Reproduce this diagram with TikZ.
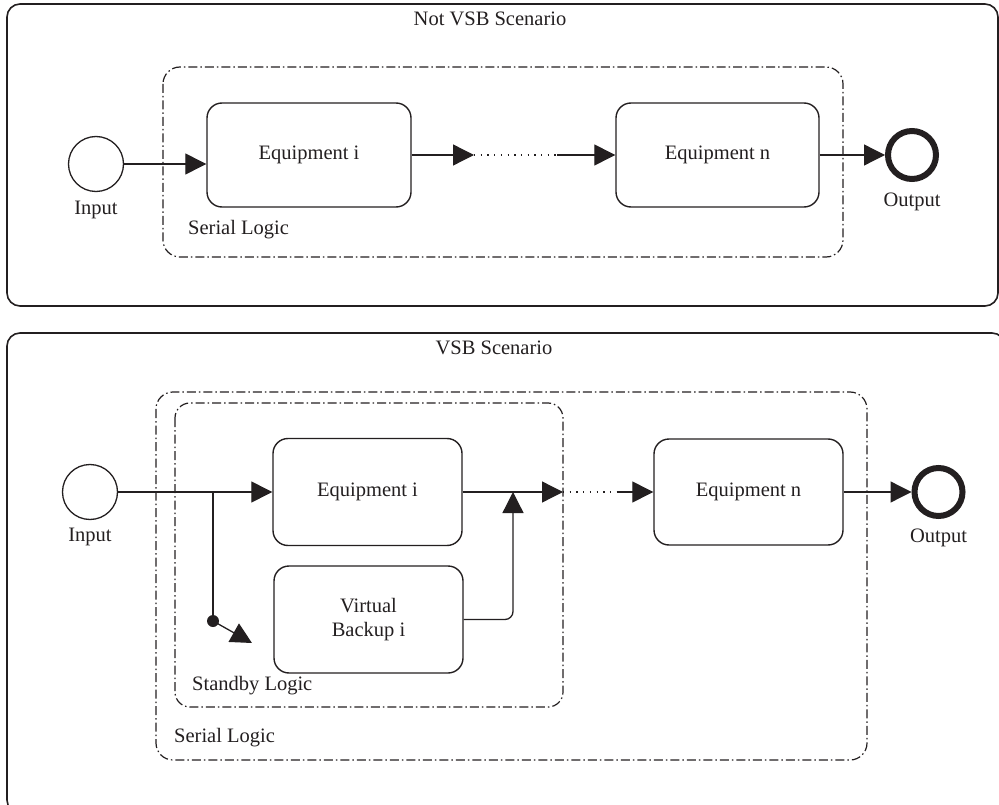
\documentclass[tikz,border=0pt]{standalone}
\usepackage{fontspec}
\setmainfont{Liberation Serif}
\usetikzlibrary{arrows.meta}
\definecolor{ink}{RGB}{35,31,32}
\begin{document}
\begin{tikzpicture}[x=1pt,y=-1pt,
  font=\fontsize{20.5}{24}\selectfont,
  panel/.style={draw=ink, line width=1.6pt, rounded corners=13pt},
  group/.style={draw=ink, line width=1.2pt, rounded corners=17pt, dash pattern=on 9pt off 3pt on 1.5pt off 3pt},
  task/.style={rectangle, draw=ink, line width=1.4pt, rounded corners=15pt, inner sep=0pt, align=center, text=ink},
  startev/.style={circle, draw=ink, line width=1.3pt, minimum size=55pt, inner sep=0pt},
  endev/.style={circle, draw=ink, line width=6pt, minimum size=48pt, inner sep=0pt},
  flow/.style={draw=ink, line width=1.3pt, -{Triangle[length=21pt,width=21pt]}},
  plain/.style={draw=ink, line width=1.3pt},
  dotline/.style={draw=ink, line width=1.3pt, dash pattern=on 1.3pt off 5.4pt},
  lbl/.style={text=ink, inner sep=0pt}]
\useasboundingbox (0,0) rectangle (999,805);
\clip (0,0) rectangle (999,805);

% ---------------- Top panel: Not VSB Scenario ----------------
\draw[panel] (7,4) rectangle (998,306);
\node[lbl] (t1) at (490,19) {Not VSB Scenario};
\draw[group] (163,67) rectangle (843,257);
\node[lbl, anchor=west] (sl1) at (188,230) {Serial Logic};

\node[startev] (in1) at (96,164) {};
\node[lbl] (in1l) at (96,210) {Input};
\node[task, minimum width=204pt, minimum height=104pt] (eqi1) at (309,155) {Equipment i};
\node[task, minimum width=203pt, minimum height=104pt] (eqn1) at (717.5,155) {Equipment n};
\node[endev] (out1) at (912,155) {};
\node[lbl] (out1l) at (912,202) {Output};

\coordinate (a1) at (474,155);
\coordinate (b1) at (557,155);
\draw[flow] (in1.east) -- (in1.east -| eqi1.west);
\draw[flow] (eqi1.east) -- (a1);
\draw[dotline] (a1) -- (b1);
\draw[flow] (b1) -- (eqn1.west);
\draw[flow] (eqn1.east) -- (out1.west);

% ---------------- Bottom panel: VSB Scenario ----------------
\draw[panel] (7,333) rectangle (1005,813);
\node[lbl] (t2) at (494,348) {VSB Scenario};
\draw[group] (156,392) rectangle (867,760);
\draw[group, rounded corners=15pt] (175,403) rectangle (563,707);
\node[lbl, anchor=west] (sb2) at (192,686) {Standby Logic};
\node[lbl, anchor=west] (sl2) at (174,738) {Serial Logic};

\node[startev] (in2) at (90,492) {};
\node[lbl] (in2l) at (90,537) {Input};
\node[task, minimum width=189pt, minimum height=107pt] (eqi2) at (367.5,492) {Equipment i};
\node[task, minimum width=189pt, minimum height=107pt] (vb2) at (368.5,619.5) {Virtual\\Backup i};
\node[task, minimum width=189pt, minimum height=106pt] (eqn2) at (748.5,492) {Equipment n};
\node[endev] (out2) at (938.5,492) {};
\node[lbl] (out2l) at (938.5,538) {Output};

\coordinate (br) at (213,492);
\node[circle, fill=ink, inner sep=0pt, minimum size=12pt] (dot) at (213,621) {};
\coordinate (tip) at (252,643);
\coordinate (join) at (513,492);
\coordinate (a2) at (563,492);
\coordinate (b2) at (617,492);

\draw[flow] (in2.east) -- (eqi2.west);
\draw[plain] (br) -- (dot.center);
\draw[flow] (dot.center) -- (tip);
\draw[flow, rounded corners=8pt] (vb2.east) -| (join);
\draw[flow] (eqi2.east) -- (a2);
\draw[dotline] (a2) -- (b2);
\draw[flow] (b2) -- (eqn2.west);
\draw[flow] (eqn2.east) -- (out2.west);
\end{tikzpicture}
\end{document}
